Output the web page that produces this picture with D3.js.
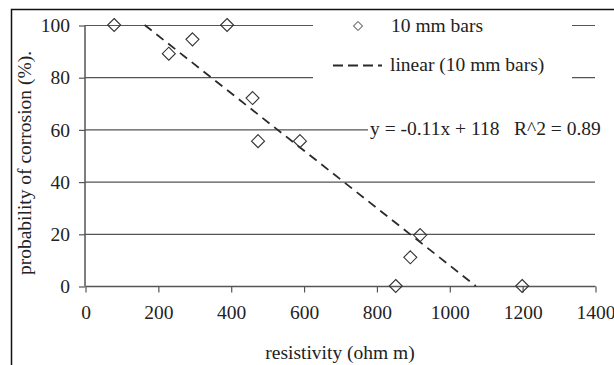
<!DOCTYPE html>
<html><head><meta charset="utf-8">
<script src="https://cdn.jsdelivr.net/npm/d3@7"></script>
<style>
html,body{margin:0;padding:0;background:#fff;}
svg text{font-family:"Liberation Serif","DejaVu Serif",serif;fill:#222;white-space:pre;}
</style></head>
<body><svg id="c" width="614" height="365"></svg>
<script>
const resistivity = [80, 230, 295, 390, 460, 475, 590, 920, 893, 853, 1200];
const probability = [100, 89, 94.5, 100, 72, 55.5, 55.5, 19.5, 11, 0, 0];
const xTicks = [0, 200, 400, 600, 800, 1000, 1200, 1400];
const yTicks = [0, 20, 40, 60, 80, 100];
const trendSlope = [-0.11];
const trendIntercept = [118];
const seriesName = ["10 mm bars"];
const trendName = ["linear (10 mm bars)"];
const equationText = ["y = -0.11x + 118   R^2 = 0.89"];

const svg = d3.select("#c");
const FS = 19.5;
const x = d3.scaleLinear().domain([0, 1400]).range([85, 595]);
const y = d3.scaleLinear().domain([0, 100]).range([286, 25]);

// outer frame
svg.append("rect").attr("x", 11.5).attr("y", 9.5).attr("width", 640).attr("height", 400)
  .attr("fill", "none").attr("stroke", "#111").attr("stroke-width", 1.5);

// gridlines
svg.append("g").selectAll("line").data(yTicks.filter(d => d > 0)).join("line")
  .attr("x1", x(0)).attr("x2", x(1400))
  .attr("y1", d => y(d) + 0.5).attr("y2", d => y(d) + 0.5)
  .attr("stroke", "#555").attr("stroke-width", 1.2);

// axes
const yAxis = d3.axisLeft(y).tickValues(yTicks).tickSize(6).tickPadding(9).tickFormat(d3.format("d"));
const gy = svg.append("g").attr("transform", `translate(${x(0)},0.5)`).call(yAxis);
gy.select(".domain").attr("stroke", "#555").attr("stroke-width", 1.5).attr("d", `M0,${y(0)}V${y(100)}`);
gy.selectAll(".tick line").attr("stroke", "#555").attr("stroke-width", 1.2);
gy.selectAll(".tick text").attr("font-size", FS).attr("fill", "#222").style("font-family", "Liberation Serif");

const xAxis = d3.axisBottom(x).tickValues(xTicks).tickSize(6).tickPadding(13).tickFormat(d3.format("d"));
const gx = svg.append("g").attr("transform", `translate(0.5,${y(0) + 0.5})`).call(xAxis);
gx.select(".domain").attr("stroke", "#555").attr("stroke-width", 1.5).attr("d", `M${x(0)},0H${x(1400)}`);
gx.selectAll(".tick line").attr("stroke", "#555").attr("stroke-width", 1.2);
gx.selectAll(".tick text").attr("font-size", FS).attr("fill", "#222").style("font-family", "Liberation Serif");

// trend line, clipped to y range [0,100]
const m = trendSlope[0], b = trendIntercept[0];
const xStart = (100 - b) / m, xEnd = (0 - b) / m;
svg.append("line")
  .attr("x1", x(xStart)).attr("y1", y(m * xStart + b))
  .attr("x2", x(xEnd)).attr("y2", y(m * xEnd + b))
  .attr("stroke", "#2a2a2a").attr("stroke-width", 1.8).attr("stroke-dasharray", "9,6");

// markers
const diamond = (cx, cy, r) => `M${cx},${cy - r}L${cx + r},${cy}L${cx},${cy + r}L${cx - r},${cy}Z`;
svg.append("g").selectAll("path").data(resistivity.map((d, i) => [d, probability[i]])).join("path")
  .attr("d", d => diamond(x(d[0]), y(d[1]), 6.5))
  .attr("fill", "none").attr("stroke", "#333").attr("stroke-width", 1.1);

// legend
svg.append("rect").attr("x", 313).attr("y", 11).attr("width", 259).attr("height", 90).attr("fill", "#fff");
svg.append("path").attr("d", diamond(358, 26, 4.5)).attr("fill", "none").attr("stroke", "#333").attr("stroke-width", 1);
svg.append("text").attr("x", 391).attr("y", 32).attr("font-size", FS).text(seriesName[0]);
svg.append("line").attr("x1", 333).attr("x2", 382).attr("y1", 65.5).attr("y2", 65.5)
  .attr("stroke", "#2a2a2a").attr("stroke-width", 1.8).attr("stroke-dasharray", "10,5");
svg.append("text").attr("x", 390).attr("y", 71).attr("font-size", FS).text(trendName[0]);

// equation
svg.append("rect").attr("x", 368).attr("y", 119).attr("width", 260).attr("height", 22).attr("fill", "#fff");
svg.append("text").attr("x", 370).attr("y", 135).attr("font-size", FS).text(equationText[0]);

// axis titles
svg.append("text").attr("x", x(700)).attr("y", 359).attr("text-anchor", "middle").attr("font-size", FS)
  .text("resistivity (ohm m)");
svg.append("text").attr("transform", `translate(31,163) rotate(-90)`).attr("text-anchor", "middle")
  .attr("font-size", FS).text("probability of corrosion (%).");
</script></body></html>
